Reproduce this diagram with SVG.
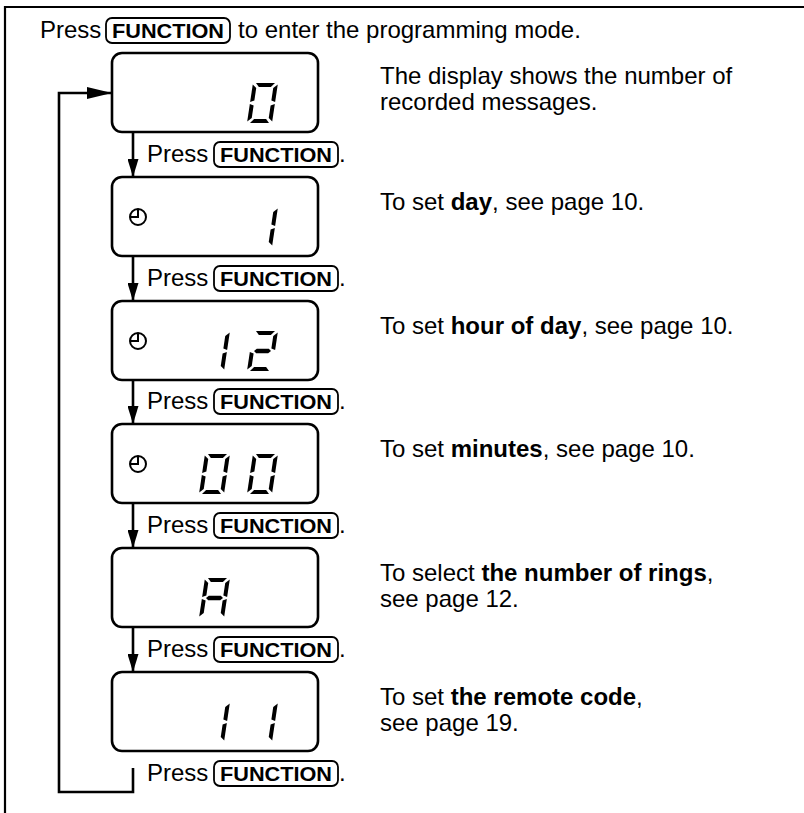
<svg xmlns="http://www.w3.org/2000/svg" width="804" height="813" viewBox="0 0 804 813">
<style>
.t{font-family:"Liberation Sans",Arial,Helvetica,sans-serif;font-size:24px;fill:#000}
.b{font-weight:bold}
.kt{font-family:"Liberation Sans",Arial,Helvetica,sans-serif;font-size:20px;font-weight:bold;fill:#000;text-anchor:middle}
.disp{fill:#fff;stroke:#000;stroke-width:2.6}
.key{fill:none;stroke:#000;stroke-width:1.8}
.ln{fill:none;stroke:#000;stroke-width:2.6}
.frame{fill:none;stroke:#000;stroke-width:2.2}
.clk{fill:none;stroke:#000;stroke-width:2}
.seg{fill:#000}
</style>
<defs>
<marker id="ah" markerUnits="userSpaceOnUse" markerWidth="18" markerHeight="11" refX="18" refY="5.5" orient="auto">
<path d="M0,0 L18,5.5 L0,11 z" fill="#000"/>
</marker>
<marker id="ahl" markerUnits="userSpaceOnUse" markerWidth="25" markerHeight="12" refX="25" refY="6" orient="auto">
<path d="M0,0 L25,6 L0,12 z" fill="#000"/>
</marker>
<polygon id="sa" class="seg" points="3,-40 22,-40 18.5,-36 6.5,-36"/>
<polygon id="sd" class="seg" points="3,0 22,0 18.5,-4 6.5,-4"/>
<polygon id="sg" class="seg" points="4,-20 6.5,-22.2 18.5,-22.2 21,-20 18.5,-17.8 6.5,-17.8"/>
<polygon id="sf" class="seg" points="0,-38.5 4,-35 4,-22.5 0,-21"/>
<polygon id="sb" class="seg" points="25,-38.5 25,-21 21,-22.5 21,-35"/>
<polygon id="se" class="seg" points="0,-19 4,-17.5 4,-5 0,-1.5"/>
<polygon id="sc" class="seg" points="25,-19 25,-1.5 21,-5 21,-17.5"/>
<g id="clock"><circle cx="0" cy="0" r="8" class="clk"/><path d="M0,-8 V0 H-8" class="clk"/></g>
</defs>

<g id="frame">
<line x1="4" y1="7" x2="804" y2="7" class="frame"/>
<line x1="5" y1="6" x2="5" y2="813" class="frame"/>
</g>

<g id="intro">
<text class="t" x="40" y="38">Press</text>
<rect class="key" x="106" y="18" width="124" height="25" rx="6"/>
<text class="kt" x="168" y="37.5" textLength="112" lengthAdjust="spacingAndGlyphs">FUNCTION</text>
<text class="t" x="238" y="38">to enter the programming mode.</text>
</g>

<g id="connectors">
<line x1="133" y1="132" x2="133" y2="177" class="ln" marker-end="url(#ah)"/>
<line x1="133" y1="256" x2="133" y2="301" class="ln" marker-end="url(#ah)"/>
<line x1="133" y1="380" x2="133" y2="424" class="ln" marker-end="url(#ah)"/>
<line x1="133" y1="503" x2="133" y2="548" class="ln" marker-end="url(#ah)"/>
<line x1="133" y1="627" x2="133" y2="672" class="ln" marker-end="url(#ah)"/>
<path d="M133,768 V792 H59 V93 H112" class="ln" marker-end="url(#ahl)"/>
</g>

<g id="labels">
<g id="label1"><text class="t" x="147" y="162">Press</text><rect class="key" x="214" y="142" width="124" height="25" rx="6"/><text class="kt" x="276" y="161.5" textLength="112" lengthAdjust="spacingAndGlyphs">FUNCTION</text><text class="t" x="339" y="162">.</text></g>
<g id="label2"><text class="t" x="147" y="286">Press</text><rect class="key" x="214" y="266" width="124" height="25" rx="6"/><text class="kt" x="276" y="285.5" textLength="112" lengthAdjust="spacingAndGlyphs">FUNCTION</text><text class="t" x="339" y="286">.</text></g>
<g id="label3"><text class="t" x="147" y="409">Press</text><rect class="key" x="214" y="389" width="124" height="25" rx="6"/><text class="kt" x="276" y="408.5" textLength="112" lengthAdjust="spacingAndGlyphs">FUNCTION</text><text class="t" x="339" y="409">.</text></g>
<g id="label4"><text class="t" x="147" y="533">Press</text><rect class="key" x="214" y="513" width="124" height="25" rx="6"/><text class="kt" x="276" y="532.5" textLength="112" lengthAdjust="spacingAndGlyphs">FUNCTION</text><text class="t" x="339" y="533">.</text></g>
<g id="label5"><text class="t" x="147" y="657">Press</text><rect class="key" x="214" y="637" width="124" height="25" rx="6"/><text class="kt" x="276" y="656.5" textLength="112" lengthAdjust="spacingAndGlyphs">FUNCTION</text><text class="t" x="339" y="657">.</text></g>
<g id="label6"><text class="t" x="147" y="781">Press</text><rect class="key" x="214" y="761" width="124" height="25" rx="6"/><text class="kt" x="276" y="780.5" textLength="112" lengthAdjust="spacingAndGlyphs">FUNCTION</text><text class="t" x="339" y="781">.</text></g>
</g>

<g id="display1">
<rect class="disp" x="112" y="53" width="206" height="79" rx="10"/>
<g transform="translate(247,123) skewX(-8.5)"><use href="#sa"/><use href="#sb"/><use href="#sc"/><use href="#sd"/><use href="#se"/><use href="#sf"/></g>
<text class="t" x="380" y="84">The display shows the number of</text>
<text class="t" x="380" y="110">recorded messages.</text>
</g>

<g id="display2">
<rect class="disp" x="112" y="177" width="206" height="79" rx="10"/>
<use href="#clock" x="138" y="217"/>
<g transform="translate(247,247) skewX(-8.5)"><use href="#sb"/><use href="#sc"/></g>
<text class="t" x="380" y="210">To set <tspan class="b">day</tspan>, see page 10.</text>
</g>

<g id="display3">
<rect class="disp" x="112" y="301" width="206" height="79" rx="10"/>
<use href="#clock" x="138" y="341"/>
<g transform="translate(199,371) skewX(-8.5)"><use href="#sb"/><use href="#sc"/></g>
<g transform="translate(247,371) skewX(-8.5)"><use href="#sa"/><use href="#sb"/><use href="#sg"/><use href="#se"/><use href="#sd"/></g>
<text class="t" x="380" y="334">To set <tspan class="b">hour of day</tspan>, see page 10.</text>
</g>

<g id="display4">
<rect class="disp" x="112" y="424" width="206" height="79" rx="10"/>
<use href="#clock" x="138" y="464"/>
<g transform="translate(199,494) skewX(-8.5)"><use href="#sa"/><use href="#sb"/><use href="#sc"/><use href="#sd"/><use href="#se"/><use href="#sf"/></g>
<g transform="translate(247,494) skewX(-8.5)"><use href="#sa"/><use href="#sb"/><use href="#sc"/><use href="#sd"/><use href="#se"/><use href="#sf"/></g>
<text class="t" x="380" y="457">To set <tspan class="b">minutes</tspan>, see page 10.</text>
</g>

<g id="display5">
<rect class="disp" x="112" y="548" width="206" height="79" rx="10"/>
<g transform="translate(199,618) skewX(-8.5)"><use href="#sa"/><use href="#sb"/><use href="#sc"/><use href="#se"/><use href="#sf"/><use href="#sg"/></g>
<text class="t" x="380" y="581">To select <tspan class="b">the number of rings</tspan>,</text>
<text class="t" x="380" y="607">see page 12.</text>
</g>

<g id="display6">
<rect class="disp" x="112" y="672" width="206" height="79" rx="10"/>
<g transform="translate(199,742) skewX(-8.5)"><use href="#sb"/><use href="#sc"/></g>
<g transform="translate(247,742) skewX(-8.5)"><use href="#sb"/><use href="#sc"/></g>
<text class="t" x="380" y="705">To set <tspan class="b">the remote code</tspan>,</text>
<text class="t" x="380" y="731">see page 19.</text>
</g>
</svg>
